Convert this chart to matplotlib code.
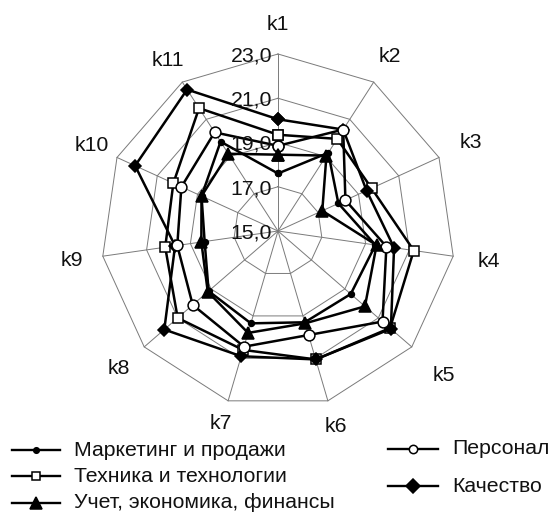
import numpy as np
import matplotlib
matplotlib.use('Agg')
import matplotlib.pyplot as plt
from matplotlib.lines import Line2D
from matplotlib.transforms import offset_copy

plt.rcParams['font.family'] = ['Liberation Sans', 'DejaVu Sans']

# ---------------- data ----------------
categories = ['k1', 'k2', 'k3', 'k4', 'k5', 'k6', 'k7', 'k8', 'k9', 'k10', 'k11']
marketing = [17.6, 19.2, 18.0, 19.45, 19.35, 19.3, 19.35, 19.15, 18.35, 18.8, 19.8]
technika = [19.35, 19.95, 19.65, 21.2, 21.7, 21.05, 20.6, 21.0, 20.15, 20.2, 21.6]
uchet = [18.45, 19.05, 17.2, 19.5, 20.2, 19.35, 19.8, 19.2, 18.5, 18.8, 19.15]
personal = [18.85, 20.45, 18.35, 19.95, 21.25, 19.9, 20.45, 20.1, 19.6, 19.8, 20.3]
kachestvo = [20.05, 20.45, 19.4, 20.3, 21.75, 21.05, 20.9, 21.8, 19.7, 22.1, 22.6]
series_names = ['Маркетинг и продажи', 'Техника и технологии', 'Учет, экономика, финансы',
                'Персонал', 'Качество']
tick_values = [15, 17, 19, 21, 23]
tick_labels = ['15,0', '17,0', '19,0', '21,0', '23,0']

# ---------------- layout ----------------
W, H = 552, 516
FS = 15.3
fig = plt.figure(figsize=(W / 100, H / 100), dpi=100)
cx, cy, R = 278, 231, 177
ax = fig.add_axes([(cx - R) / W, (H - cy - R) / H, 2 * R / W, 2 * R / H], projection='polar')
ax.set_theta_offset(np.pi / 2)
ax.set_theta_direction(-1)
rmin, rmax = tick_values[0], tick_values[-1]
ax.set_ylim(rmin, rmax)
ax.axis('off')

n = len(categories)
angles = np.arange(n) * 2 * np.pi / n
closed = np.append(angles, angles[0])

grid_col = '#7a7a7a'
for v in tick_values[1:]:
    ax.plot(closed, [v] * (n + 1), color=grid_col, lw=0.7, zorder=1, clip_on=False)
for a in angles:
    ax.plot([a, a], [rmin, rmax], color=grid_col, lw=0.7, zorder=1, clip_on=False)

styles = [
    dict(marker='o', ms=4.2, mfc='black', z=3),
    dict(marker='s', ms=7.5, mfc='white', z=4),
    dict(marker='^', ms=8.5, mfc='black', z=7),
    dict(marker='o', ms=7.8, mfc='white', z=6),
    dict(marker='D', ms=6.5, mfc='black', z=5),
]
all_series = [marketing, technika, uchet, personal, kachestvo]
for vals, st in zip(all_series, styles):
    v = list(vals) + [vals[0]]
    ax.plot(closed, v, color='black', lw=1.8, marker=st['marker'], ms=st['ms'],
            mfc=st['mfc'], mec='black', mew=1.1, zorder=st['z'], clip_on=False)

# radial tick labels
trans = offset_copy(ax.transData, fig=fig, x=-6, y=-2, units='dots')
for v, lab in zip(tick_values, tick_labels):
    ax.text(0, v, lab, transform=trans, ha='right', va='center', fontsize=FS,
            color='#111111', zorder=10)

# category labels
label_px = [207, 207, 212, 213, 220, 204, 201, 210, 208, 205, 203]
for a, cat, rp in zip(angles, categories, label_px):
    ax.text(a, rmin + rp / R * (rmax - rmin), cat, ha='center', va='center',
            fontsize=FS, color='#111111', clip_on=False)

# legend (drawn manually to mimic the spreadsheet layout)
def fx(x):
    return x / W

def fy(y):
    return 1 - y / H

legend_pos = [((12, 60), 450), ((12, 60), 476), ((12, 60), 503), ((388, 438), 449), ((388, 438), 486)]
leg_ms = [4.0, 6.0, 9.0, 6.0, 7.0]
for name, st, (xr, y), lms in zip(series_names, styles, legend_pos, leg_ms):
    ln = Line2D([fx(xr[0]), fx(xr[1])], [fy(y), fy(y)], transform=fig.transFigure,
                color='black', lw=1.7)
    fig.add_artist(ln)
    mk = Line2D([fx((xr[0] + xr[1]) / 2)], [fy(y)], transform=fig.transFigure,
                marker=st['marker'], ms=lms, mfc=st['mfc'], mec='black', mew=1.1,
                linestyle='none')
    fig.add_artist(mk)
    fig.text(fx(xr[1] + 14), fy(y), name, ha='left', va='center', fontsize=FS, color='#111111')

fig.savefig('out.png', dpi=100, facecolor='white')
